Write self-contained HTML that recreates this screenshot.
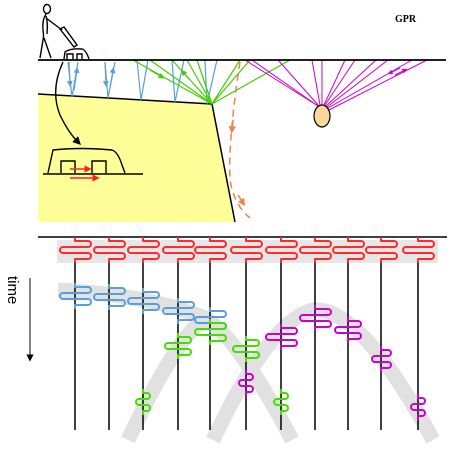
<!DOCTYPE html>
<html><head><style>body{margin:0;background:#fff}svg{display:block}</style></head><body>
<svg width="451" height="451" viewBox="0 0 451 451" xmlns="http://www.w3.org/2000/svg">
<defs>
<marker id="ab" viewBox="0 0 10 10" refX="5" refY="5" markerWidth="5" markerHeight="5" orient="auto"><path d="M0,0L10,5L0,10z" fill="#5a9fd8"/></marker>
<marker id="ag" viewBox="0 0 10 10" refX="5" refY="5" markerWidth="5" markerHeight="5" orient="auto"><path d="M0,0L10,5L0,10z" fill="#44cc00"/></marker>
<marker id="am" viewBox="0 0 10 10" refX="5" refY="5" markerWidth="5" markerHeight="5" orient="auto"><path d="M0,0L10,5L0,10z" fill="#cc00cc"/></marker>
<marker id="ao" viewBox="0 0 10 10" refX="5" refY="5" markerWidth="5" markerHeight="5" orient="auto"><path d="M0,0L10,5L0,10z" fill="#f08050"/></marker>
<marker id="ar" viewBox="0 0 10 10" refX="5" refY="5" markerWidth="5" markerHeight="5" orient="auto"><path d="M0,0L10,5L0,10z" fill="#ff2020"/></marker>
<marker id="ak" viewBox="0 0 10 10" refX="5" refY="5" markerWidth="6" markerHeight="6" orient="auto"><path d="M0,0L10,5L0,10z" fill="#000"/></marker>
<path id="W" d="M0,-13 v4 h13 a3,3 0 0 1 0,6 h-25 a3,3 0 0 0 0,6 h25 a3,3 0 0 1 0,6 h-13 v4"/>
<path id="G" d="M0,-13 v4 h10 a3,3 0 0 1 0,6 h-20 a3,3 0 0 0 0,6 h20 a3,3 0 0 1 0,6 h-10 v4"/>
<path id="S" d="M0,-13 v4 h4 a3,3 0 0 1 0,6 h-8 a3,3 0 0 0 0,6 h8 a3,3 0 0 1 0,6 h-4 v4"/>
<path id="M" d="M0,-13 v4 h7 a3,3 0 0 1 0,6 h-13 a3,3 0 0 0 0,6 h13 a3,3 0 0 1 0,6 h-7 v4"/>
</defs>
<polygon points="38,94 212,104 235,222 38,222" fill="#ffff99"/>
<polyline points="38,94 212,104 235,222" fill="none" stroke="#000" stroke-width="1.5"/>
<g stroke="#5a9fd8" stroke-width="1.2" fill="none">
<path d="M68,62 L72,97 L78,62"/><line x1="69" y1="62" x2="70" y2="84" marker-end="url(#ab)"/><line x1="74" y1="90" x2="77" y2="70" marker-end="url(#ab)"/>
<path d="M105,62 L108,98 L115,62"/><line x1="105" y1="62" x2="106" y2="84" marker-end="url(#ab)"/><line x1="110" y1="88" x2="113" y2="70" marker-end="url(#ab)"/>
<path d="M137,60 L141,100 L148,60"/><path d="M172,60 L175,102 L184,60"/><path d="M205,60 L207,104 L217,60"/>
</g>
<g stroke="#44cc00" stroke-width="1.2">
<line x1="212" y1="104" x2="133" y2="60"/><line x1="212" y1="104" x2="150" y2="60"/><line x1="212" y1="104" x2="172" y2="60"/><line x1="212" y1="104" x2="187" y2="60"/><line x1="212" y1="104" x2="197" y2="60"/><line x1="212" y1="104" x2="240" y2="60"/><line x1="212" y1="104" x2="250" y2="60"/><line x1="212" y1="104" x2="290" y2="60"/>
<line x1="150" y1="70" x2="162" y2="77" marker-end="url(#ag)"/><line x1="190" y1="80" x2="183" y2="72" marker-end="url(#ag)"/>
</g>
<g stroke="#cc00cc" stroke-width="1">
<line x1="318" y1="106" x2="245" y2="60"/><line x1="318" y1="106" x2="252" y2="60"/><line x1="319" y1="106" x2="278" y2="60"/><line x1="320" y1="105" x2="312" y2="60"/><line x1="322" y1="105" x2="322" y2="60"/><line x1="324" y1="105" x2="345" y2="60"/><line x1="325" y1="105" x2="355" y2="60"/><line x1="326" y1="106" x2="376" y2="60"/><line x1="327" y1="107" x2="388" y2="60"/><line x1="328" y1="108" x2="412" y2="60"/><line x1="329" y1="110" x2="427" y2="60"/>
<line x1="400" y1="68" x2="390" y2="73" marker-end="url(#am)"/><line x1="395" y1="75" x2="405" y2="70" marker-end="url(#am)"/>
</g>
<ellipse cx="322" cy="116" rx="8" ry="11" fill="#fcd898" stroke="#000" stroke-width="1.2"/>
<path d="M240,62 Q228,140 230,180 Q234,205 250,218" fill="none" stroke="#f08050" stroke-width="1.5" stroke-dasharray="7,5"/>
<line x1="233" y1="120" x2="232" y2="130" stroke="#f08050" stroke-width="1.5" marker-end="url(#ao)"/>
<line x1="238" y1="195" x2="243" y2="203" stroke="#f08050" stroke-width="1.5" marker-end="url(#ao)"/>
<line x1="38" y1="60" x2="446" y2="60" stroke="#000" stroke-width="1.8"/>
<text x="395" y="22" font-family="Liberation Serif, serif" font-weight="bold" font-size="10">GPR</text>
<g stroke="#000" stroke-width="1.4" fill="none">
<ellipse cx="47" cy="9" rx="3.5" ry="4.5"/>
<path d="M46,14 Q42,20 43,30 Q44,36 43,40 L40,58 M44,38 L51,58 M46,16 Q48,22 47,34 M46,18 L62,30"/>
<path d="M60,29 L64,27 L77,45 L74,47 Z"/>
<path d="M64,59 L65,52 Q70,48 82,49 Q86,50 89,59 M67,59 v-5 h6 v5 M77,59 v-5 h5 v5"/>
<path d="M63,62 Q50,90 60,115 Q68,132 78,142" marker-end="url(#ak)"/>
<path d="M48,173 L53,150 Q80,147 112,150 Q118,152 122,165 L125,173 M61,173 v-12 h14 v12 M92,173 v-12 h14 v12"/>
</g>
<line x1="43" y1="174" x2="143" y2="174" stroke="#000" stroke-width="1.5"/>
<line x1="70" y1="169" x2="88" y2="169" stroke="#ff2020" stroke-width="1.5" marker-end="url(#ar)"/>
<line x1="70" y1="178" x2="96" y2="178" stroke="#ff2020" stroke-width="1.5" marker-end="url(#ar)"/>
<line x1="38" y1="237" x2="447" y2="237" stroke="#000" stroke-width="1.5"/>
<rect x="57" y="240" width="381" height="23" fill="#e6e6e6"/>
<g fill="none" stroke="#dcdcdc" stroke-width="15" opacity="0.85">
<path d="M58,290 Q150,295 205,318 Q240,340 292,440"/>
<path d="M128,440 Q180,330 207,318"/>
<path d="M213,440 Q270,320 313,310 Q360,305 433,440"/>
</g>
<g stroke="#000" stroke-width="1.5">
<line x1="75" y1="262" x2="75" y2="430"/><line x1="109" y1="262" x2="109" y2="430"/><line x1="143" y1="262" x2="143" y2="430"/><line x1="178" y1="262" x2="178" y2="430"/><line x1="210" y1="262" x2="210" y2="430"/><line x1="246" y1="262" x2="246" y2="430"/><line x1="281" y1="262" x2="281" y2="430"/><line x1="315" y1="262" x2="315" y2="430"/><line x1="348" y1="262" x2="348" y2="430"/><line x1="381" y1="262" x2="381" y2="430"/><line x1="418" y1="262" x2="418" y2="430"/>
</g>
<g fill="none" stroke-width="2" stroke-linejoin="round">
<g stroke="#ff2a2a">
<use href="#W" x="75" y="250"/><use href="#W" x="109" y="250"/><use href="#W" x="143" y="250"/><use href="#W" x="178" y="250"/><use href="#W" x="210" y="250"/><use href="#W" x="246" y="250"/><use href="#W" x="281" y="250"/><use href="#W" x="315" y="250"/><use href="#W" x="348" y="250"/><use href="#W" x="381" y="250"/><use href="#W" x="418" y="250"/>
</g>
<g stroke="#5a9fd8">
<use href="#W" x="75" y="296"/><use href="#W" x="109" y="297"/><use href="#W" x="143" y="301"/><use href="#W" x="178" y="311"/><use href="#W" x="210" y="320"/>
</g>
<g stroke="#44dd00">
<use href="#W" x="210" y="332"/><use href="#G" x="178" y="346"/><use href="#G" x="246" y="349"/><use href="#S" x="143" y="402"/><use href="#S" x="281" y="402"/>
</g>
<g stroke="#cc00cc">
<use href="#W" x="315" y="318"/><use href="#W" x="281" y="337"/><use href="#G" x="348" y="330"/><use href="#M" x="381" y="359"/><use href="#S" x="418" y="407"/><use href="#S" x="246" y="383"/>
</g>
</g>
<text transform="translate(8,276) rotate(90)" font-family="Liberation Sans, sans-serif" font-size="15">time</text>
<line x1="30" y1="278" x2="30" y2="358" stroke="#333" stroke-width="1.2" marker-end="url(#ak)"/>
</svg>
</body></html>
